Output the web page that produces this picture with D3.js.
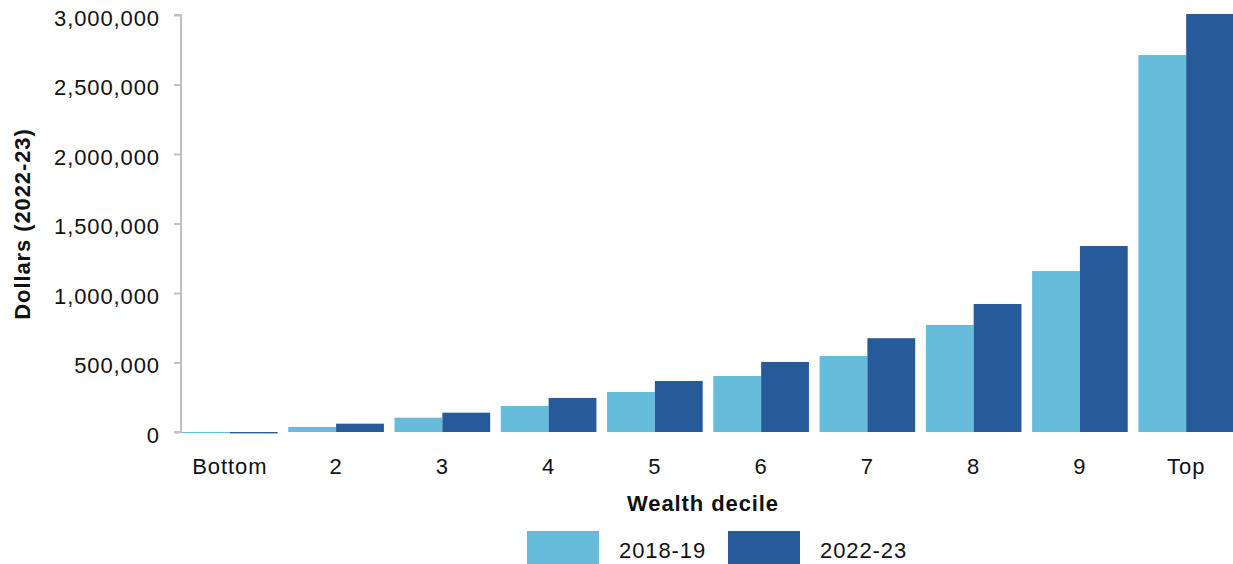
<!DOCTYPE html>
<html>
<head>
<meta charset="utf-8">
<script src="https://cdn.jsdelivr.net/npm/d3@7"></script>
<style>
  html, body { margin: 0; padding: 0; background: #fff; }
  svg { display: block; font-family: "Liberation Sans", Arial, sans-serif; }
  text { letter-spacing: 0.9px; }
</style>
</head>
<body>
<svg id="chart" width="1233" height="564"></svg>
<script>
const categories = ["Bottom", "2", "3", "4", "5", "6", "7", "8", "9", "Top"];
const seriesNames = ["2018-19", "2022-23"];
const values2018 = [-8000, 36000, 103000, 187000, 288000, 403000, 547000, 770000, 1158000, 2712000];
const values2022 = [-10000, 60000, 139000, 245000, 367000, 504000, 675000, 921000, 1338000, 3007000];
const yTicks = [0, 500000, 1000000, 1500000, 2000000, 2500000, 3000000];
const colors = ["#66bcdb", "#265b9a"];

const svg = d3.select("#chart");
const x0 = d3.scaleBand().domain(categories).range([182, 1234]).paddingInner(0.1).paddingOuter(0);
const x1 = d3.scaleBand().domain(seriesNames).range([0, x0.bandwidth()]).padding(0);
const y = d3.scaleLinear().domain([0, 3000000]).range([432, 15]);

const series = [values2018, values2022];
const FS = 22;

// bars
categories.forEach((c, i) => {
  const g = svg.append("g").attr("transform", `translate(${x0(c)},0)`);
  seriesNames.forEach((s, j) => {
    const v = series[j][i];
    g.append("rect")
      .attr("x", x1(s))
      .attr("width", x1.bandwidth())
      .attr("y", Math.min(y(v), y(0)))
      .attr("height", Math.abs(y(v) - y(0)))
      .attr("fill", colors[j]);
  });
});

// y axis
const yAxis = d3.axisLeft(y).tickValues(yTicks).tickSize(7).tickPadding(14)
  .tickFormat(d3.format(","));
const ya = svg.append("g").attr("transform", "translate(181,0)").call(yAxis);
ya.select(".domain").attr("stroke", "#c0c0c0").attr("stroke-width", 2)
  .attr("d", `M-7,${y(3000000)}H0V${y(0)}H-7`);
ya.selectAll(".tick line").attr("stroke", "#c0c0c0").attr("stroke-width", 2);
ya.selectAll(".tick text").attr("font-size", FS).attr("fill", "#111")
  .attr("font-family", "Liberation Sans, Arial, sans-serif")
  .attr("y", 3);

// x axis labels
const xAxis = d3.axisBottom(x0).tickSize(0).tickPadding(26);
const xa = svg.append("g").attr("transform", `translate(0,${y(0)})`).call(xAxis);
xa.select(".domain").remove();
xa.selectAll(".tick text").attr("font-size", FS).attr("fill", "#111")
  .attr("font-family", "Liberation Sans, Arial, sans-serif");

// axis titles
svg.append("text").attr("x", 703).attr("y", 511).attr("text-anchor", "middle")
  .attr("font-size", FS).attr("font-weight", "bold").attr("fill", "#111").text("Wealth decile");
svg.append("text").attr("transform", "translate(30,224) rotate(-90)").attr("text-anchor", "middle")
  .attr("font-size", FS).attr("font-weight", "bold").attr("fill", "#111").text("Dollars (2022-23)");

// legend
const legendX = [527, 728];
seriesNames.forEach((s, j) => {
  svg.append("rect").attr("x", legendX[j]).attr("y", 531).attr("width", 72).attr("height", 34).attr("fill", colors[j]);
  svg.append("text").attr("x", legendX[j] + 92).attr("y", 558).attr("font-size", FS).attr("fill", "#111").text(s);
});
</script>
</body>
</html>
